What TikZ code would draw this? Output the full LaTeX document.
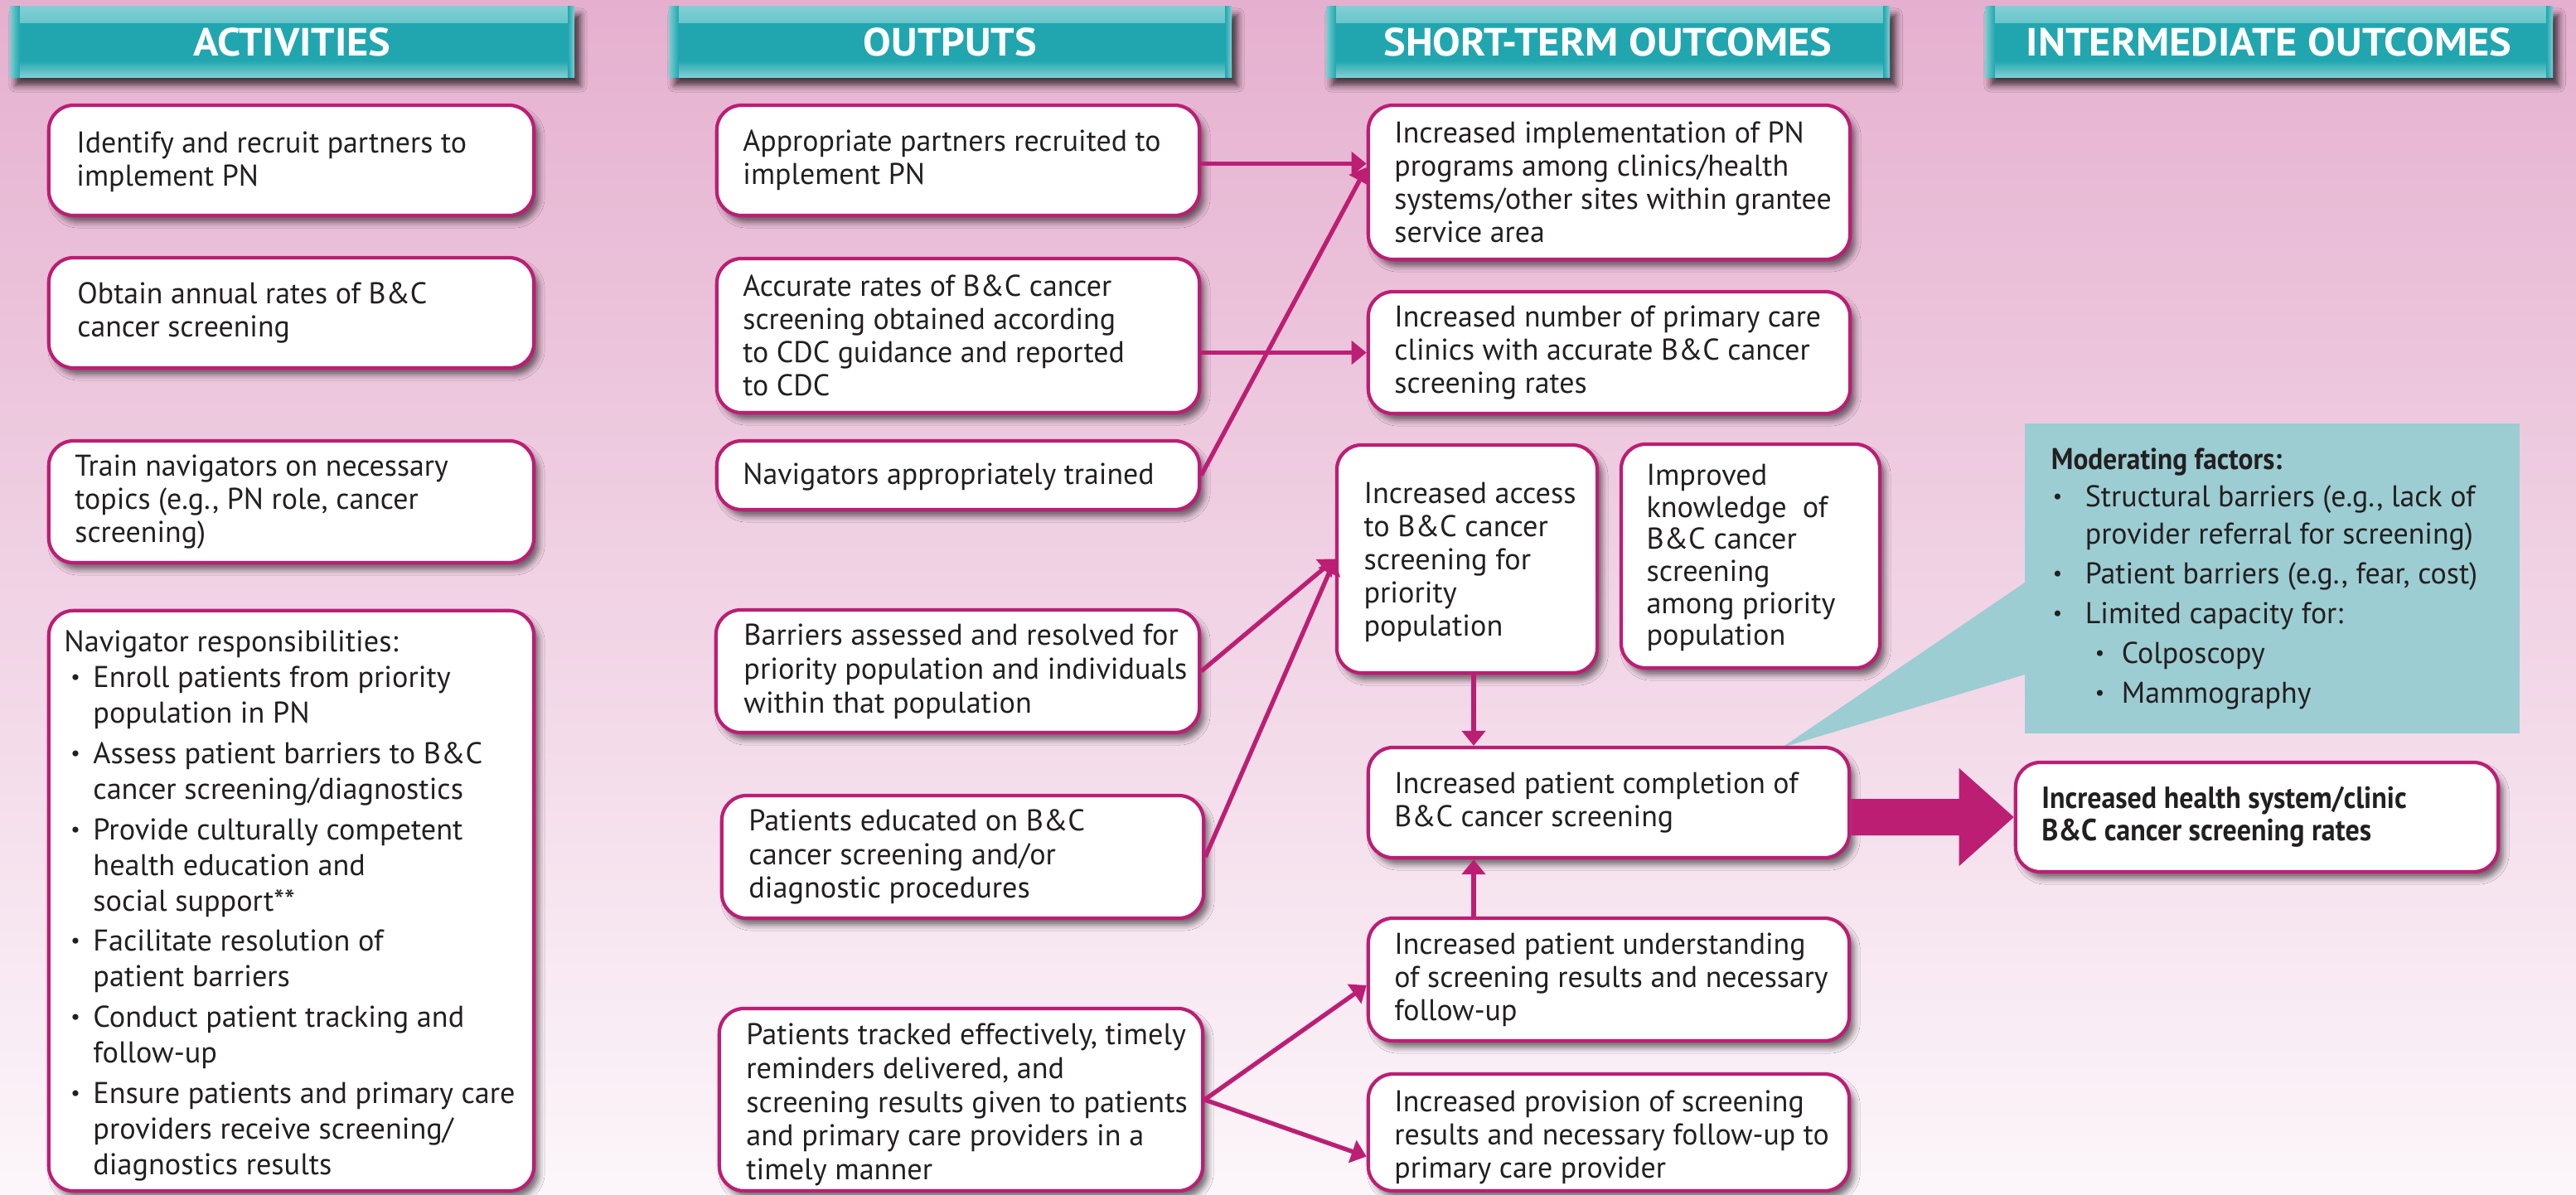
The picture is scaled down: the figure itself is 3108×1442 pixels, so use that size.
\documentclass[tikz,border=0pt]{standalone}
\usepackage{fontspec}
\setmainfont{PT Sans}
\newfontfamily\cnd[FakeStretch=0.99]{PT Sans}
\newfontfamily\nrm[FakeStretch=1.0]{PT Sans}
\newfontfamily\bfw[FakeStretch=1.06]{PT Sans}
\newfontfamily\bfm[FakeStretch=0.92]{PT Sans}
\usetikzlibrary{calc,arrows.meta,shadows.blur}
\definecolor{mag}{RGB}{188,30,116}
\definecolor{tealA}{RGB}{33,166,175}
\definecolor{tealB}{RGB}{128,207,211}
\definecolor{modteal}{RGB}{156,205,210}
\definecolor{bgtop}{RGB}{229,176,207}
\definecolor{bgbot}{RGB}{252,246,250}
\definecolor{txt}{RGB}{35,31,32}
\newcommand\bul{\raisebox{0.04cm}{\scalebox{0.7}{\textbullet}}}
\newcommand\bu{\makebox[0.35cm][l]{\hspace{0.08cm}\bul}}
\newcommand\ind{\hspace*{0.35cm}}
\newcommand\mbu{\makebox[0.41cm][l]{\hspace{0.02cm}\bul}}
\newcommand\mind{\hspace*{0.41cm}}
\newcommand\sbu{\hspace*{0.53cm}\makebox[0.32cm][l]{\bul}}
\tikzset{
  box/.style={draw=mag, line width=1.2pt, fill=white, rounded corners=0.3cm,
    inner sep=0pt,
    blur shadow={shadow xshift=0.06cm, shadow yshift=-0.08cm,
      shadow blur radius=0.07cm, shadow opacity=55}},
  ct/.style={inner sep=0pt, align=left, text=txt,
    font=\cnd\fontsize{10.3}{11.4}\selectfont},
  nt/.style={inner sep=0pt, align=left, text=txt,
    font=\nrm\fontsize{10.3}{11.6}\selectfont},
  hdr/.style={fill=tealA, inner sep=0pt, text=white,
    minimum height=0.85cm,
    font=\bfw\bfseries\fontsize{13.5}{14}\selectfont,
    blur shadow={shadow xshift=0.07cm, shadow yshift=-0.1cm,
      shadow blur radius=0.08cm, shadow opacity=70},
    path picture={
      \shade[top color=tealB, bottom color=tealA]
        (path picture bounding box.north west) rectangle
        ([yshift=-0.2cm]path picture bounding box.north east);
      \shade[top color=tealA, bottom color=tealB]
        ([yshift=0.2cm]path picture bounding box.south west) rectangle
        (path picture bounding box.south east);
      \shade[left color=tealB, right color=tealA]
        (path picture bounding box.north west) rectangle
        ([xshift=0.12cm]path picture bounding box.south west);
      \shade[left color=tealA, right color=tealB]
        ([xshift=-0.08cm]path picture bounding box.north east) rectangle
        (path picture bounding box.south east);
    }},
  conn/.style={draw=mag, line width=1.5pt, -{Triangle[length=0.18cm,width=0.28cm]}}
}
% name, cx, cy, width, height, text style, left pad, y offset, text
\newcommand\bx[9]{%
  \node[box, minimum width=#4cm, minimum height=#5cm] (#1) at (#2,#3) {};
  \node[#6, anchor=west] (#1t) at ($(#1.west)+(#7,#8)$) {#9};}
\begin{document}
\begin{tikzpicture}[x=0.01cm, y=-0.01cm]
\useasboundingbox (0,0) rectangle (3108,1442);
\shade[top color=bgtop, bottom color=bgbot] (0,0) rectangle (3108,1442);

% headers
\node[hdr, minimum width=6.81cm] (h1) at (352.5,50.5) {ACTIVITIES};
\node[hdr, minimum width=6.79cm] (h2) at (1146.5,50.5) {OUTPUTS};
\node[hdr, minimum width=6.80cm] (h3) at (1940,50.5) {SHORT-TERM OUTCOMES};
\node[hdr, minimum width=6.85cm] (h4) at (2737.5,50.5) {INTERMEDIATE OUTCOMES};

% moderating factors callout
\fill[modteal] (2443,703) -- (2443,814) -- (2150,902) -- cycle;
\node[fill=modteal, inner sep=0pt, minimum width=5.97cm, minimum height=3.74cm]
  (mod) at (2741.5,698) {};
\node[ct, anchor=west, font=\cnd\fontsize{10.3}{12.8}\selectfont] (modt)
  at ($(mod.west)+(32,0)$)
  {{\bfm\bfseries Moderating factors:}\\
   \mbu Structural barriers (e.g., lack of\\
   \mind provider referral for screening)\\[0.03cm]
   \mbu Patient barriers (e.g., fear, cost)\\[0.03cm]
   \mbu Limited capacity for:\\[0.03cm]
   \sbu Colposcopy\\[0.03cm]
   \sbu Mammography};

% activities
\bx{a1}{351.5}{193.5}{5.85}{1.33}{ct}{35}{2}
  {Identify and recruit partners to\\implement PN}
\bx{a2}{351.5}{377.5}{5.85}{1.33}{ct}{36}{0}
  {Obtain annual rates of B\&C\\cancer screening}
\bx{a3}{351.5}{605.5}{5.85}{1.47}{ct}{33}{0}
  {Train navigators on necessary\\topics (e.g., PN role, cancer\\screening)}
\bx{a4}{351.5}{1087}{5.85}{7.00}{nt, font=\nrm\fontsize{10.3}{12.2}\selectfont}{20}{6}
  {Navigator responsibilities:\\
   \bu Enroll patients from priority\\
   \ind population in PN\\[0.06cm]
   \bu Assess patient barriers to B\&C\\
   \ind cancer screening/diagnostics\\[0.06cm]
   \bu Provide culturally competent\\
   \ind health education and\\
   \ind social support**\\[0.06cm]
   \bu Facilitate resolution of\\
   \ind patient barriers\\[0.06cm]
   \bu Conduct patient tracking and\\
   \ind follow-up\\[0.06cm]
   \bu Ensure patients and primary care\\
   \ind providers receive screening/\\
   \ind diagnostics results}

% outputs
\bx{o1}{1156}{193.5}{5.82}{1.33}{ct}{33}{0}
  {Appropriate partners recruited to\\implement PN}
\bx{o2}{1156}{405}{5.82}{1.86}{ct}{33}{0}
  {Accurate rates of B\&C cancer\\screening obtained according\\to CDC guidance and reported\\to CDC}
\bx{o3}{1156}{573.5}{5.82}{0.83}{ct}{33}{2}
  {Navigators appropriately trained}
\bx{o4}{1155.5}{810}{5.83}{1.48}{nt}{35}{0}
  {Barriers assessed and resolved for\\priority population and individuals\\within that population}
\bx{o5}{1161.5}{1034}{5.81}{1.48}{nt}{34}{0}
  {Patients educated on B\&C\\cancer screening and/or\\diagnostic procedures}
\bx{o6}{1159.5}{1327}{5.83}{2.20}{nt}{34}{6}
  {Patients tracked effectively, timely\\reminders delivered, and\\screening results given to patients\\and primary care providers in a\\timely manner}

% short-term outcomes
\bx{s1}{1941.5}{220}{5.81}{1.86}{ct}{33}{0}
  {Increased implementation of PN\\programs among clinics/health\\systems/other sites within grantee\\service area}
\bx{s2}{1941.5}{425.5}{5.81}{1.47}{ct}{33}{0}
  {Increased number of primary care\\clinics with accurate B\&C cancer\\screening rates}
\bx{s3}{1770}{674.5}{3.14}{2.75}{nt, font=\nrm\fontsize{10.3}{11.4}\selectfont}{34}{4}
  {Increased access\\to B\&C cancer\\screening for\\priority\\population}
\bx{s4}{2112}{671}{3.12}{2.70}{nt, font=\nrm\fontsize{10.3}{11.0}\selectfont}{32}{2}
  {Improved\\knowledge~ of\\B\&C cancer\\screening\\among priority\\population}
\bx{s5}{1941}{968.5}{5.80}{1.33}{ct}{33}{0}
  {Increased patient completion of\\B\&C cancer screening}
\bx{s6}{1941}{1182}{5.80}{1.48}{ct}{33}{0}
  {Increased patient understanding\\of screening results and necessary\\follow-up}
\bx{s7}{1941}{1366.5}{5.80}{1.41}{ct}{33}{6}
  {Increased provision of screening\\results and necessary follow-up to\\primary care provider}

% intermediate outcome
\bx{i1}{2723}{986}{5.82}{1.32}{ct, font=\bfm\bfseries\fontsize{10.5}{11.2}\selectfont}{33}{0}
  {Increased health system/clinic\\B\&C cancer screening rates}

% big arrow
\fill[mag] ($(s5.east |- i1.west)+(0,-22)$) -- ($(i1.west)+(-66,-22)$)
  -- ($(i1.west)+(-66,-59)$) -- (i1.west) -- ($(i1.west)+(-66,59)$)
  -- ($(i1.west)+(-66,22)$) -- ($(s5.east |- i1.west)+(0,22)$) -- cycle;

% connectors
\coordinate (vx) at (1778,0);
\draw[conn] ($(o1.east)+(0,4)$) -- ($(o1.east -| s1.west)+(0,4)$);
\draw[conn] (s2.west -| o2.east) -- (s2.west);
\draw[conn] (o3.east) -- ($(s1.west)+(0,-18)$);
\draw[conn] (o4.east) -- (s3.west);
\draw[conn] (o5.east) -- (s3.west);
\draw[conn] (o6.east) -- ($(s6.west)+(0,7)$);
\draw[conn] (o6.east) -- ($(s7.west)+(0,29)$);
\draw[conn] (s3.south -| vx) -- (s5.north -| vx);
\draw[conn] (s6.north -| vx) -- (s5.south -| vx);
\end{tikzpicture}
\end{document}
